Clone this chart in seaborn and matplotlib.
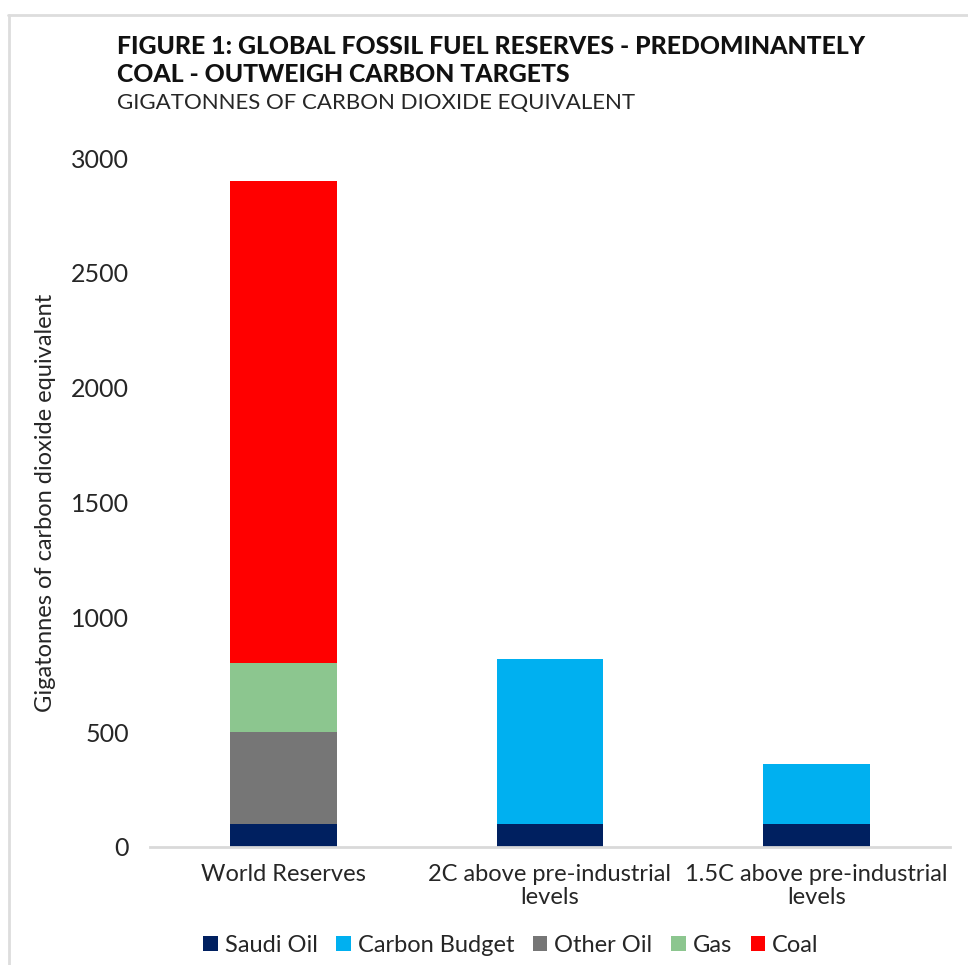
import matplotlib
matplotlib.use("Agg")
import matplotlib.pyplot as plt
import seaborn as sns
import numpy as np
import pandas as pd
from matplotlib.lines import Line2D

categories = ["World Reserves", "2C above pre-industrial\nlevels", "1.5C above pre-industrial\nlevels"]
saudi_oil = [100, 100, 100]
carbon_budget = [0, 720, 260]
other_oil = [400, 0, 0]
gas = [300, 0, 0]
coal = [2100, 0, 0]
y_ticks = [0, 500, 1000, 1500, 2000, 2500, 3000]

series = [
    ("Saudi Oil", saudi_oil, "#002060"),
    ("Carbon Budget", carbon_budget, "#00B0F0"),
    ("Other Oil", other_oil, "#767676"),
    ("Gas", gas, "#8CC68F"),
    ("Coal", coal, "#FF0000"),
]

sns.set_theme(style="white")
plt.rcParams["font.family"] = ["Lato", "DejaVu Sans"]
TXT = "#262626"

fig = plt.figure(figsize=(9.68, 9.65), dpi=100)
ax = fig.add_axes([150/968, 1-847/965, 800/968, (847-158)/965])

bottom = np.zeros(len(categories))
for name, vals, col in series:
    df = pd.DataFrame({"cat": categories, "val": vals})
    sns.barplot(data=df, x="cat", y="val", order=categories, color=col,
                width=0.4, bottom=bottom.copy(), label=name, ax=ax,
                saturation=1, errorbar=None, linewidth=0)
    bottom += np.array(vals, dtype=float)

ax.set_xlim(-0.5, 2.5)
ax.set_ylim(0, 3000)
ax.set_yticks(y_ticks)
ax.set_yticklabels([str(t) for t in y_ticks], fontsize=18, color=TXT)
ax.tick_params(axis="x", labelsize=17, colors=TXT, length=0, pad=12)
ax.tick_params(axis="y", length=0, pad=15)
for lab in ax.get_xticklabels():
    lab.set_linespacing(1.15)
ax.set_xlabel("")
ax.set_ylabel("Gigatonnes of carbon dioxide equivalent", fontsize=17,
              color=TXT, labelpad=11)
for s in ["top", "right", "left"]:
    ax.spines[s].set_visible(False)
ax.spines["bottom"].set_color("#D9D9D9")
ax.spines["bottom"].set_linewidth(2)
ax.grid(False)
if ax.get_legend():
    ax.get_legend().remove()

handles, labels = ax.get_legend_handles_labels()
fig.legend(handles, labels, loc="center", bbox_to_anchor=(511/968, 1-945/965),
           ncol=5, frameon=False, handlelength=0.6, handleheight=0.6,
           handletextpad=0.3, columnspacing=0.8, labelcolor=TXT,
           prop={"size": 17})

fig.text(117/968, 1-47/965, "FIGURE 1: GLOBAL FOSSIL FUEL RESERVES - PREDOMINANTELY",
         fontsize=17.8, fontweight="black", va="center", ha="left", color="#111111")
fig.text(117/968, 1-75/965, "COAL - OUTWEIGH CARBON TARGETS",
         fontsize=17.8, fontweight="black", va="center", ha="left", color="#111111")
fig.text(117/968, 1-103/965, "GIGATONNES OF CARBON DIOXIDE EQUIVALENT",
         fontsize=16, va="center", ha="left", color=TXT)

fig.add_artist(Line2D([8/968, 1], [1-15/965, 1-15/965], color="#DDDDDD", lw=2, transform=fig.transFigure))
fig.add_artist(Line2D([9/968, 9/968], [0, 1-15/965], color="#DDDDDD", lw=2, transform=fig.transFigure))

fig.savefig("out.png", dpi=100)
